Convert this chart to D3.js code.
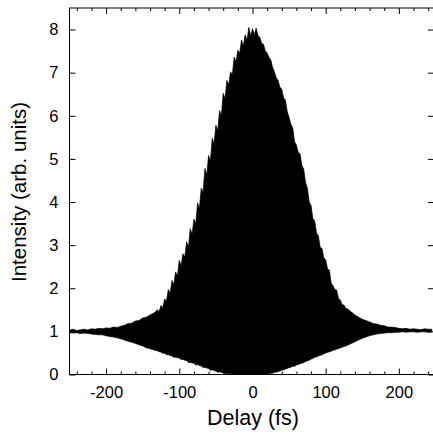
<!DOCTYPE html>
<html>
<head>
<meta charset="utf-8">
<script src="https://cdn.jsdelivr.net/npm/d3@7"></script>
<style>
  html, body { margin: 0; padding: 0; background: #fff; }
  svg { display: block; }
  text { font-family: "Liberation Sans", Arial, sans-serif; fill: #000; }
</style>
</head>
<body>
<svg id="chart" width="433" height="434"></svg>
<script>
// Delay (fs)
const delay = [
  -250,-245,-240,-235,-230,-225,-220,-215,-210,-205,-200,-195,-190,-185,-180,-175,-170,-165,-160,-155,-150,-145,-140,-135,
  -130,-127.5,-125,-122.5,-120,-117.5,-115,-112.5,-110,-107.5,
  -105,-102.5,-100,-97.5,-95,-92.5,-90,-87.5,-85,-82.5,
  -80,-77.5,-75,-72.5,-70,-67.5,-65,-62.5,-60,-57.5,
  -55,-52.5,-50,-47.5,-45,-42.5,-40,-37.5,-35,-32.5,
  -30,-27.5,-25,-22.5,-20,-17.5,-15,-12.5,-10,-7.5,
  -5,-2.5,0,2.5,5,7.5,10,12.5,15,17.5,
  20,22.5,25,27.5,30,32.5,35,37.5,40,42.5,
  45,47.5,50,52.5,55,57.5,60,62.5,65,67.5,
  70,72.5,75,77.5,80,82.5,85,87.5,90,92.5,
  95,97.5,100,102.5,105,107.5,110,112.5,115,117.5,
  120,122.5,125,127.5,130,
  135,140,145,150,155,160,165,170,175,180,185,190,195,200,205,210,215,220,225,230,235,240,245];
// Upper envelope of the fringes (arb. units)
const upper = [
  1.03,1.05,1.02,1.04,1.05,1.03,1.06,1.05,1.07,1.06,1.08,1.07,1.10,1.09,1.12,1.14,1.18,1.19,1.24,1.25,1.31,1.33,1.38,1.42,
  1.50,1.46,1.60,1.55,1.75,1.70,1.97,1.88,2.18,2.08,
  2.38,2.28,2.65,2.52,2.80,2.72,3.08,2.95,3.38,3.25,
  3.60,3.50,3.98,3.85,4.32,4.22,4.78,4.62,5.08,4.95,
  5.48,5.35,5.78,5.65,6.12,6.00,6.52,6.40,6.82,6.72,
  7.02,6.95,7.36,7.25,7.52,7.45,7.76,7.62,7.88,7.75,
  8.05,7.85,8.02,7.88,8.03,7.86,7.82,7.68,7.66,7.50,
  7.46,7.35,7.30,7.12,7.02,6.88,6.82,6.66,6.62,6.42,
  6.36,6.10,5.96,5.80,5.72,5.40,5.32,5.15,5.12,4.85,
  4.76,4.45,4.32,4.00,3.92,3.62,3.56,3.28,3.22,2.95,
  2.92,2.70,2.66,2.45,2.42,2.12,2.06,1.97,1.96,1.76,
  1.73,1.62,1.61,1.53,1.52,
  1.45,1.38,1.33,1.28,1.25,1.22,1.18,1.17,1.14,1.13,1.10,1.10,1.09,1.07,1.06,1.07,1.05,1.06,1.05,1.04,1.06,1.05,1.05];
// Lower envelope of the fringes (arb. units)
const lower = [
  0.97,0.96,0.97,0.95,0.96,0.95,0.94,0.93,0.92,0.92,0.90,0.88,0.87,0.85,0.83,0.80,0.77,0.75,0.72,0.69,0.66,0.62,0.60,0.57,
  0.55,0.53,0.52,0.49,0.49,0.46,0.46,0.44,0.43,0.40,
  0.40,0.39,0.38,0.35,0.35,0.33,0.32,0.28,0.28,0.27,
  0.26,0.22,0.23,0.21,0.20,0.16,0.17,0.15,0.14,0.10,
  0.11,0.09,0.08,0.05,0.06,0.05,0.04,0.02,0.03,0.02,
  0.02,0.01,0.01,0.00,0.00,0.00,0.00,0.00,0.00,0.00,
  0.00,0.00,0.00,0.00,0.00,0.00,0.00,0.00,0.00,0.00,
  0.01,0.02,0.03,0.03,0.05,0.05,0.07,0.08,0.10,0.11,
  0.13,0.14,0.16,0.17,0.19,0.19,0.22,0.23,0.25,0.26,
  0.28,0.30,0.32,0.33,0.36,0.37,0.40,0.41,0.43,0.44,
  0.46,0.48,0.50,0.51,0.53,0.54,0.56,0.57,0.59,0.60,
  0.62,0.63,0.65,0.66,0.68,
  0.72,0.76,0.80,0.84,0.87,0.90,0.92,0.94,0.95,0.96,0.97,0.97,0.98,0.98,0.99,0.98,0.99,0.99,0.98,0.99,0.99,0.98,0.99];

const xTicks = [-200,-100,0,100,200];
const xMinor = [-240,-220,-180,-160,-140,-120,-80,-60,-40,-20,20,40,60,80,120,140,160,180,220,240];
const yTicks = [0,1,2,3,4,5,6,7,8];

const L = 69.5, R = 434, T = 8, B = 374.5;
const svg = d3.select("#chart");
const x = d3.scaleLinear().domain([-250, 248]).range([L, R]);
const y = d3.scaleLinear().domain([0, 8.5]).range([B, T]);

const n = Math.min(delay.length, upper.length, lower.length);
const data = delay.slice(0, n).map((d, i) => ({d, u: upper[i], l: lower[i]}));

svg.append("defs").append("clipPath").attr("id", "clip")
  .append("rect").attr("x", L).attr("y", T).attr("width", R - L).attr("height", B - T);

const area = d3.area().x(p => x(p.d)).y0(p => y(p.l)).y1(p => y(p.u));
svg.append("path").datum(data).attr("clip-path", "url(#clip)")
  .attr("d", area).attr("fill", "#000").attr("stroke", "#000").attr("stroke-width", 0.7);

// frame
svg.append("rect").attr("x", L).attr("y", T).attr("width", R - L).attr("height", B - T)
  .attr("fill", "none").attr("stroke", "#000").attr("stroke-width", 1);

// axes (ticks inward)
const fmt = d => d;
const gB = svg.append("g").attr("transform", `translate(0,${B})`)
  .call(d3.axisBottom(x).tickValues(xTicks).tickSize(-6).tickPadding(12).tickFormat(fmt));
const gBm = svg.append("g").attr("transform", `translate(0,${B})`)
  .call(d3.axisBottom(x).tickValues(xMinor).tickSize(-3).tickFormat(""));
const gT = svg.append("g").attr("transform", `translate(0,${T})`)
  .call(d3.axisTop(x).tickValues(xTicks).tickSize(-6).tickFormat(""));
const gTm = svg.append("g").attr("transform", `translate(0,${T})`)
  .call(d3.axisTop(x).tickValues(xMinor).tickSize(-3).tickFormat(""));
const gL = svg.append("g").attr("transform", `translate(${L},0)`)
  .call(d3.axisLeft(y).tickValues(yTicks).tickSize(-6).tickPadding(11).tickFormat(fmt));
const gR = svg.append("g").attr("transform", `translate(${R},0)`)
  .call(d3.axisRight(y).tickValues(yTicks).tickSize(-6).tickFormat(""));

[gB, gBm, gT, gTm, gL, gR].forEach(g => {
  g.select(".domain").remove();
  g.selectAll("line").attr("stroke", "#000");
  g.selectAll("text").attr("font-size", 16.5).attr("font-family", "Liberation Sans, Arial, sans-serif");
});
gB.selectAll("text").text(d => d < 0 ? "-" + Math.abs(d) : d);

svg.append("text").attr("x", 253).attr("y", 425).attr("text-anchor", "middle")
  .attr("font-size", 21.5).text("Delay (fs)");
svg.append("text").attr("transform", `translate(26,192) rotate(-90)`)
  .attr("text-anchor", "middle").attr("font-size", 20.5).text("Intensity (arb. units)");
</script>
</body>
</html>
